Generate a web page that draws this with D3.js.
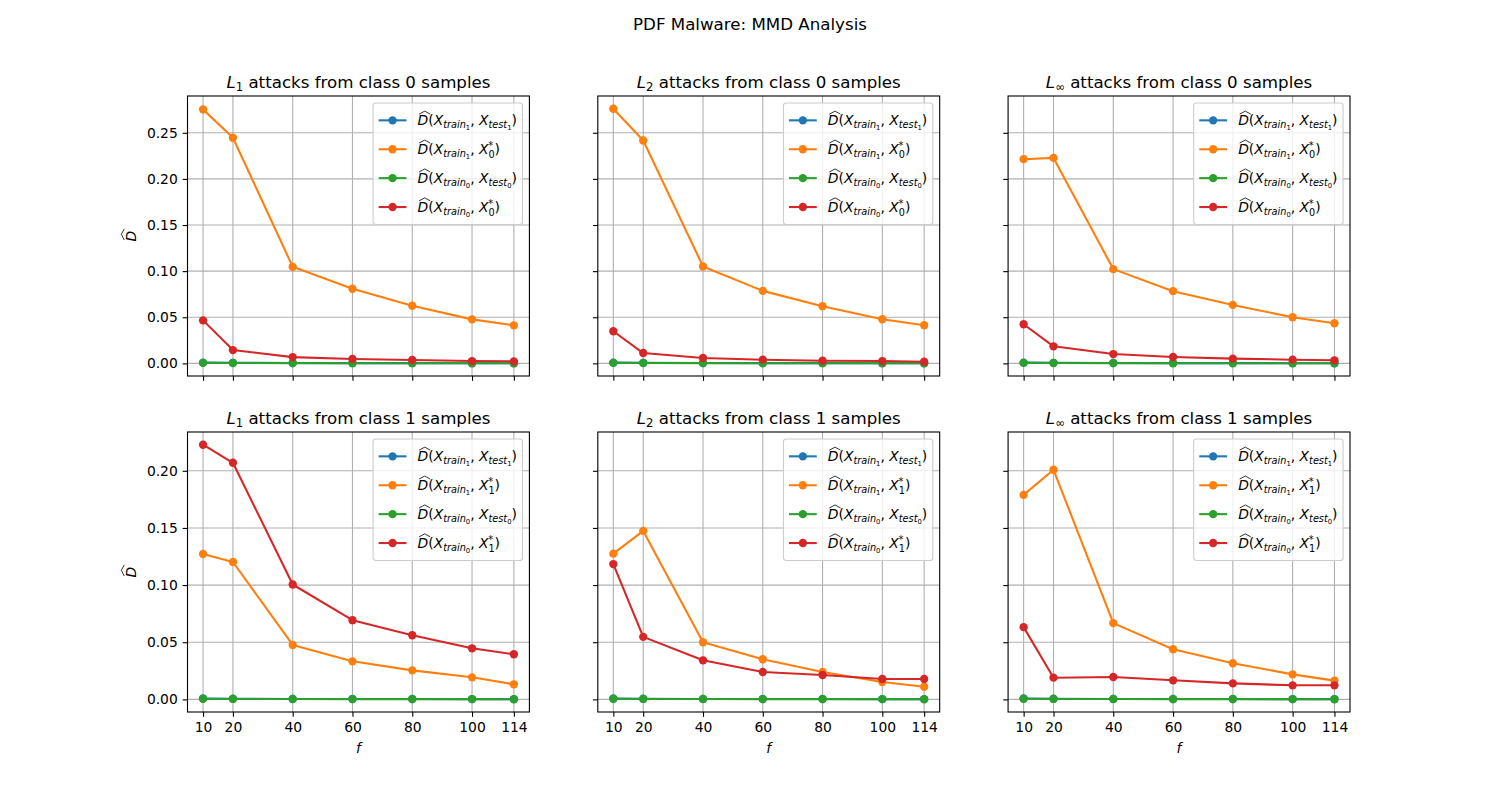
<!DOCTYPE html>
<html>
<head>
<meta charset="utf-8">
<script src="https://cdn.jsdelivr.net/npm/d3@7"></script>
<style>
  body { margin: 0; background: #fff; }
  svg { display: block; font-family: "DejaVu Sans", sans-serif; }
</style>
</head>
<body>
<svg id="chart" width="1500" height="800"></svg>
<script>
// ---- data ----
const fValues = [10, 20, 40, 60, 80, 100, 114];
const normLabels = ["1", "2", "\u221e"];
const sourceClasses = [0, 1];
const yTicksRow0 = [0, 0.05, 0.10, 0.15, 0.20, 0.25];
const yTicksRow1 = [0, 0.05, 0.10, 0.15, 0.20];

// clean baselines (same in every panel)
const train1Test1 = [0.0008, 0.0006, 0.0004, 0.0003, 0.0003, 0.0002, 0.0002];
const train0Test0 = [0.0005, 0.0004, 0.0003, 0.0002, 0.0002, 0.0002, 0.0001];

// attacks from class 0 samples
const l1c0Train1Adv   = [0.2754, 0.2446, 0.1047, 0.0809, 0.0625, 0.0477, 0.0412];
const l1c0Train0Adv   = [0.0466, 0.0144, 0.0068, 0.0047, 0.0036, 0.0025, 0.0022];
const l2c0Train1Adv   = [0.2761, 0.2417, 0.1051, 0.0786, 0.0620, 0.0478, 0.0413];
const l2c0Train0Adv   = [0.0348, 0.0112, 0.0058, 0.0040, 0.0029, 0.0025, 0.0018];
const linfC0Train1Adv = [0.2214, 0.2228, 0.1022, 0.0783, 0.0634, 0.0500, 0.0435];
const linfC0Train0Adv = [0.0424, 0.0185, 0.0101, 0.0069, 0.0051, 0.0040, 0.0033];

// attacks from class 1 samples
const l1c1Train1Adv   = [0.1272, 0.1202, 0.0476, 0.0333, 0.0254, 0.0193, 0.0132];
const l1c1Train0Adv   = [0.2228, 0.2070, 0.1005, 0.0693, 0.0561, 0.0447, 0.0395];
const l2c1Train1Adv   = [0.1275, 0.1474, 0.0500, 0.0351, 0.0240, 0.0152, 0.0111];
const l2c1Train0Adv   = [0.1184, 0.0547, 0.0342, 0.0240, 0.0213, 0.0178, 0.0178];
const linfC1Train1Adv = [0.1789, 0.2009, 0.0667, 0.0439, 0.0316, 0.0219, 0.0164];
const linfC1Train0Adv = [0.0632, 0.0190, 0.0196, 0.0167, 0.0140, 0.0123, 0.0123];

const colours = ["#1f77b4", "#ff7f0e", "#2ca02c", "#d62728"];

// panel table built from the arrays above: rows = source class, cols = norm
const advByPanel = [
    [[l1c0Train1Adv, l1c0Train0Adv], [l2c0Train1Adv, l2c0Train0Adv], [linfC0Train1Adv, linfC0Train0Adv]],
    [[l1c1Train1Adv, l1c1Train0Adv], [l2c1Train1Adv, l2c1Train0Adv], [linfC1Train1Adv, linfC1Train0Adv]]
];
const yTicksByRow = [yTicksRow0, yTicksRow1];

// ---- layout (matplotlib default subplot params for 15x8in @100dpi) ----
const svg = d3.select("#chart");
const figL = 187.5, figR = 1350, figT = 96, figB = 712;
const axW = (figR - figL) / 3.4;
const axH = (figB - figT) / 2.2;
const fs = 13.89;          // 10pt
const titleFs = 16.67;     // 12pt
const tickLen = 4.86;

// x is shared by all panels
const x = d3.scaleLinear()
    .domain([fValues[0] - 0.05 * (fValues[6] - fValues[0]), fValues[6] + 0.05 * (fValues[6] - fValues[0])])
    .range([0, axW]);

svg.append("text")
    .attr("x", 750).attr("y", 30)
    .attr("text-anchor", "middle")
    .style("font-size", titleFs + "px")
    .text("PDF Malware: MMD Analysis");

// draws a wide hat above an italic D whose left edge is at (hx, baseline)
function hat(g, hx, baseline, size) {
    const s = size / fs;
    g.append("path")
        .attr("d", `M${hx + 1.5 * s},${baseline - 11.2 * s} L${hx + 7.2 * s},${baseline - 14.2 * s} L${hx + 12.6 * s},${baseline - 11.2 * s}`)
        .attr("fill", "none")
        .attr("stroke", "#000")
        .attr("stroke-width", 0.8 * s);
}

// legend label: D^(X_{train_a}, X_{test_a}) or D^(X_{train_a}, X_b^*)
function legendLabel(g, lx, baseline, trainIdx, kind, idx) {
    const t = g.append("text").attr("x", lx).attr("y", baseline).style("font-size", fs + "px");
    const sub = fs * 0.7, subsub = fs * 0.49;
    t.append("tspan").style("font-style", "italic").text("D");
    t.append("tspan").text("(");
    t.append("tspan").style("font-style", "italic").text("X");
    t.append("tspan").style("font-style", "italic").style("font-size", sub + "px").attr("dy", 3).text("train");
    t.append("tspan").style("font-size", subsub + "px").attr("dy", 2).text(trainIdx);
    t.append("tspan").attr("dy", -5).text(", ");
    t.append("tspan").style("font-style", "italic").text("X");
    if (kind === "test") {
        t.append("tspan").style("font-style", "italic").style("font-size", sub + "px").attr("dy", 3).text("test");
        t.append("tspan").style("font-size", subsub + "px").attr("dy", 2).text(idx);
        t.append("tspan").attr("dy", -5).text(")");
    } else {
        t.append("tspan").style("font-size", sub + "px").attr("dy", 3.5).text(idx);
        t.append("tspan").style("font-size", sub + "px").attr("dx", -6.4).attr("dy", -9).text("*");
        t.append("tspan").attr("dx", 1.5).attr("dy", 5.5).text(")");
    }
    hat(g, lx, baseline, fs);
    return t;
}

sourceClasses.forEach((cls, r) => {
    const advRow = advByPanel[r];
    const allVals = advRow.flat(2).concat(train1Test1, train0Test0);
    const yMin = d3.min(allVals), yMax = d3.max(allVals);
    const pad = 0.05 * (yMax - yMin);
    const y = d3.scaleLinear().domain([yMin - pad, yMax + pad]).range([axH, 0]);
    const yTicks = yTicksByRow[r];

    normLabels.forEach((norm, c) => {
        const g = svg.append("g")
            .attr("transform", `translate(${figL + c * axW * 1.2},${figT + r * axH * 1.2})`);
        const clipId = `clip-${r}-${c}`;
        g.append("clipPath").attr("id", clipId)
            .append("rect").attr("width", axW).attr("height", axH);

        // grid
        const grid = g.append("g").attr("stroke", "#b0b0b0").attr("stroke-width", 1.1);
        grid.selectAll(".gx").data(fValues).join("line")
            .attr("x1", d => x(d)).attr("x2", d => x(d))
            .attr("y1", 0).attr("y2", axH);
        grid.selectAll(".gy").data(yTicks).join("line")
            .attr("class", "gy")
            .attr("x1", 0).attr("x2", axW)
            .attr("y1", d => y(d)).attr("y2", d => y(d));

        // series
        const series = [train1Test1, advRow[c][0], train0Test0, advRow[c][1]];
        const line = d3.line().x((d, i) => x(fValues[i])).y(d => y(d));
        const plot = g.append("g").attr("clip-path", `url(#${clipId})`);
        series.forEach((vals, k) => {
            plot.append("path")
                .attr("d", line(vals))
                .attr("fill", "none")
                .attr("stroke", colours[k])
                .attr("stroke-width", 2.08)
                .attr("stroke-linejoin", "round");
            plot.selectAll(null).data(vals).join("circle")
                .attr("cx", (d, i) => x(fValues[i]))
                .attr("cy", d => y(d))
                .attr("r", 4.17)
                .attr("fill", colours[k]);
        });

        // axes
        const xAxis = d3.axisBottom(x).tickValues(fValues).tickSize(tickLen).tickPadding(4.86)
            .tickFormat(r === 1 ? d3.format("d") : () => "");
        const yAxis = d3.axisLeft(y).tickValues(yTicks).tickSize(tickLen).tickPadding(4.86)
            .tickFormat(c === 0 ? d3.format(".2f") : () => "");
        const gx = g.append("g").attr("transform", `translate(0,${axH})`).call(xAxis);
        const gy = g.append("g").call(yAxis);
        [gx, gy].forEach(a => {
            a.select(".domain").remove();
            a.selectAll(".tick line").attr("stroke", "#000").attr("stroke-width", 1.1);
            a.selectAll(".tick text").attr("fill", "#000")
                .style("font-family", "DejaVu Sans").style("font-size", fs + "px");
        });
        g.append("rect")
            .attr("width", axW).attr("height", axH)
            .attr("fill", "none").attr("stroke", "#000").attr("stroke-width", 1.1);

        // title
        const title = g.append("text")
            .attr("x", axW / 2).attr("y", -8.3)
            .attr("text-anchor", "middle")
            .style("font-size", titleFs + "px");
        title.append("tspan").style("font-style", "italic").text("L");
        title.append("tspan").style("font-size", (titleFs * 0.7) + "px").attr("dy", 3.5).text(norm);
        title.append("tspan").attr("dy", -3.5).text(` attacks from class ${cls} samples`);

        if (c === 0) {
            const yl = g.append("g")
                .attr("transform", `translate(-52,${axH / 2}) rotate(-90)`);
            yl.append("text").attr("x", -5.5).attr("y", 0)
                .style("font-size", fs + "px").style("font-style", "italic").text("D");
            hat(yl, -5.5, 0, fs);
        }
        if (r === 1) {
            g.append("text").attr("x", axW / 2).attr("y", axH + 41)
                .attr("text-anchor", "middle")
                .style("font-size", fs + "px").style("font-style", "italic").text("f");
        }

        // legend
        const leg = g.append("g");
        const frame = leg.append("rect");
        const rowH = 28.9, topPad = 17.4;
        const labels = [
            ["1", "test", "1"],
            ["1", "star", String(cls)],
            ["0", "test", "0"],
            ["0", "star", String(cls)]
        ];
        const texts = [];
        labels.forEach((lab, k) => {
            const cy = topPad + k * rowH;
            leg.append("line")
                .attr("x1", 5.56).attr("x2", 5.56 + 27.8)
                .attr("y1", cy).attr("y2", cy)
                .attr("stroke", colours[k]).attr("stroke-width", 2.08);
            leg.append("circle")
                .attr("cx", 5.56 + 13.9).attr("cy", cy).attr("r", 4.17)
                .attr("fill", colours[k]);
            texts.push(legendLabel(leg, 5.56 + 27.8 + 11.1, cy + 5, lab[0], lab[1], lab[2]));
        });
        const textW = d3.max(texts, t => t.node().getBBox().width);
        const legW = 5.56 + 27.8 + 11.1 + textW + 5.56;
        const legH = topPad * 2 + rowH * 3;
        frame.attr("width", legW).attr("height", legH)
            .attr("rx", 2.8).attr("ry", 2.8)
            .attr("fill", "#fff").attr("fill-opacity", 0.8)
            .attr("stroke", "#cccccc").attr("stroke-width", 1.1);
        leg.attr("transform", `translate(${axW - 6.94 - legW},${6.94})`);
    });
});
</script>
</body>
</html>
